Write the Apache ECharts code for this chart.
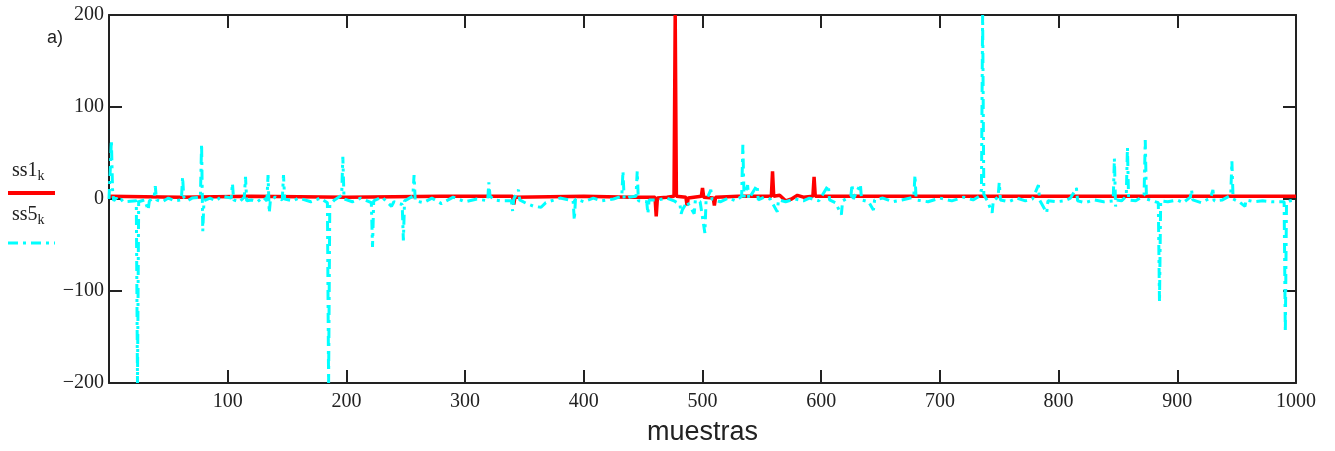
<!DOCTYPE html>
<html>
<head>
<meta charset="utf-8">
<script src="https://cdn.jsdelivr.net/npm/echarts@6/dist/echarts.min.js"></script>
<style>
  html, body { margin: 0; padding: 0; background: #fff; }
  #chart { width: 1335px; height: 451px; }
</style>
</head>
<body>
<div id="chart"></div>
<script>
// Sample index k
const xTicks = [0, 100, 200, 300, 400, 500, 600, 700, 800, 900, 1000];
const yTicks = [-200, -100, 0, 100, 200];

// ss1_k : [k, value] samples
const ss1 = [
  [0, 3], [60, 2], [120, 3], [200, 2], [280, 3], [340, 3], [341, -6], [342, 2],
  [400, 3], [440, 2], [455, 2], [460, 2], [461, -19], [462, 1], [470, 2], [476, 3],
  [477, 200], [478, 3], [486, 2], [487, -7], [488, 1], [499, 3], [500, 12], [501, 2],
  [509, 1], [510, -7], [511, 2], [530, 3], [558, 3], [559, 30], [560, 3], [565, 4],
  [570, -2], [575, 0], [580, 4], [585, 2], [593, 3], [594, 24], [595, 3], [605, 3],
  [700, 3], [800, 3], [900, 3], [1000, 3]
];

// ss5_k : [k, value] samples
const ss5 = [
  [0, 0], [1, 30], [2, 64], [3, 10], [4, -2], [6, 1], [8, -2], [10, 0], [12, -3],
  [23, -2], [24, -200], [25, -3],
  [30, -1], [33, -12], [34, -2], [38, 2], [39, 14], [40, -1],
  [45, -3], [50, 1], [55, -2],
  [61, -1], [62, 24], [63, 2], [66, -2], [70, 1],
  [77, 2], [78, 60], [79, -35], [80, -2],
  [85, 1], [90, -2], [95, 3],
  [103, 1], [104, 17], [105, -1],
  [110, -3], [114, 2], [115, 24], [116, -2], [120, -1],
  [125, -3], [130, 2], [133, -2], [134, 26], [135, -15], [136, -1],
  [140, 2], [146, -1], [147, 26], [148, 0], [155, -2], [160, 1], [170, -3], [178, 1],
  [184, -4], [185, -200], [186, -6],
  [190, -1], [196, 4], [197, 46], [198, 0],
  [205, -3], [212, 1], [221, -4], [222, -52], [223, -2], [230, 2], [238, -8], [240, -3],
  [247, -6], [248, -45], [249, -2], [256, 3], [257, 26], [258, -2],
  [265, -4], [272, 1], [280, -5], [290, 2], [300, -3], [310, 0],
  [319, -2], [320, 18], [321, 3], [325, -1], [330, -2], [339, -2], [340, -13], [341, 0],
  [345, 10], [346, -1],
  [352, -5], [358, -8], [364, -9], [368, -4], [375, -1], [380, 1],
  [391, -2], [392, -23], [393, 0],
  [400, -3], [408, 1], [415, -2], [425, 0], [432, 3], [433, 30], [434, 0], [438, 2],
  [444, 3], [445, 30], [446, -2],
  [453, -3], [454, -16], [455, -1], [462, -1], [470, 1], [476, -2],
  [481, -6], [482, -16], [483, -12], [487, -3], [493, -16], [494, -1], [498, -3],
  [502, -37], [503, -2], [507, 10], [508, 0],
  [515, -3], [522, 1], [528, -2],
  [533, 3], [534, 59], [535, 2], [538, 15], [539, 0], [546, 15], [547, -1], [552, 2],
  [557, 0], [563, -14], [564, -1],
  [570, -3], [578, 0], [585, -2], [590, 1], [598, -2],
  [606, 15], [607, -1], [612, -4], [617, -17], [618, -2], [625, 3], [626, 16], [627, 0],
  [633, 16], [634, -1], [640, -3], [644, -12], [645, -1],
  [652, 1], [660, -3], [668, -1], [678, 2], [679, 26], [680, -1], [690, -3], [700, 1],
  [710, -2], [720, 2], [728, -1], [733, 3],
  [735, 10], [736, 200], [737, 5], [740, -2], [744, -15], [745, -2], [749, 2], [750, 18], [751, -1],
  [758, -3], [765, 1], [772, -2], [778, 0], [783, 15], [784, -1], [790, -15], [791, -2], [798, -3],
  [805, -2], [810, 1], [815, 12], [816, -2], [822, -4], [830, -1], [838, -3],
  [846, -2], [847, 44], [848, -8], [849, -1], [853, -2], [857, 3], [858, 56], [859, -1],
  [865, -2], [872, 4], [873, 64], [874, 0], [879, -2], [884, -4], [885, -112], [886, -2],
  [892, -3], [900, -1], [905, -4], [911, 2], [912, 10], [913, -1], [920, -4], [928, 1],
  [930, 10], [931, -2],
  [938, -1], [945, 4], [946, 41], [947, 0], [952, -3], [957, -8], [958, -1], [965, -3],
  [972, -2], [980, -3],
  [990, -3], [991, -145], [992, -4], [995, -2], [1000, -1]
];

const axisColor = '#222';
const labelFont = 'Liberation Serif';

const chart = echarts.init(document.getElementById('chart'), null, { renderer: 'canvas' });

const baseX = {
  type: 'value',
  min: xTicks[0],
  max: xTicks[xTicks.length - 1],
  interval: xTicks[1] - xTicks[0],
  axisLine: { show: true, onZero: false, lineStyle: { color: axisColor, width: 2 } },
  axisTick: { show: true, inside: true, length: 13, lineStyle: { color: axisColor, width: 2 } },
  splitLine: { show: false }
};
const baseY = {
  type: 'value',
  min: yTicks[0],
  max: yTicks[yTicks.length - 1],
  interval: yTicks[1] - yTicks[0],
  axisLine: { show: true, onZero: false, lineStyle: { color: axisColor, width: 2 } },
  axisTick: { show: true, inside: true, length: 13, lineStyle: { color: axisColor, width: 2 } },
  splitLine: { show: false }
};

chart.setOption({
  animation: false,
  backgroundColor: '#ffffff',
  grid: { left: 109, right: 39, top: 15, bottom: 68, containLabel: false },
  xAxis: [
    Object.assign({}, baseX, {
      position: 'bottom',
      axisLabel: {
        margin: 9, color: '#222', fontFamily: labelFont, fontSize: 20,
        formatter: v => (v === 0 ? '' : String(v))
      },
      name: 'muestras',
      nameLocation: 'middle',
      nameGap: 36,
      nameTextStyle: { fontFamily: 'Liberation Sans', fontSize: 27, color: '#222' }
    }),
    Object.assign({}, baseX, { position: 'top', axisLabel: { show: false } })
  ],
  yAxis: [
    Object.assign({}, baseY, {
      position: 'left',
      axisLabel: {
        margin: 5, color: '#222', fontFamily: labelFont, fontSize: 20,
        formatter: v => String(v).replace('-', '\u2212')
      }
    }),
    Object.assign({}, baseY, { position: 'right', axisLabel: { show: false } })
  ],
  series: [
    {
      name: 'ss1',
      type: 'line',
      data: ss1,
      showSymbol: false,
      clip: true,
      lineStyle: { color: '#ff0000', width: 3.5 },
      z: 2
    },
    {
      name: 'ss5',
      type: 'line',
      data: ss5,
      showSymbol: false,
      clip: true,
      lineStyle: { color: '#00ffff', width: 3, type: [10, 5, 3, 5] },
      z: 3
    }
  ],
  graphic: [
    { type: 'text', left: 47, top: 29, style: { text: 'a)', font: '18px "Liberation Sans"', fill: '#222' } },
    {
      type: 'text', left: 12, top: 161,
      style: {
        text: '{m|ss1}{s|k}', fill: '#222',
        rich: {
          m: { font: '20px "Liberation Serif"', fill: '#222' },
          s: { font: '14px "Liberation Serif"', fill: '#222', padding: [10, 0, 0, 0] }
        }
      }
    },
    { type: 'line', shape: { x1: 8, y1: 193, x2: 55, y2: 193 }, style: { stroke: '#ff0000', lineWidth: 4 } },
    {
      type: 'text', left: 12, top: 205,
      style: {
        text: '{m|ss5}{s|k}', fill: '#222',
        rich: {
          m: { font: '20px "Liberation Serif"', fill: '#222' },
          s: { font: '14px "Liberation Serif"', fill: '#222', padding: [10, 0, 0, 0] }
        }
      }
    },
    { type: 'line', shape: { x1: 8, y1: 243, x2: 55, y2: 243 }, style: { stroke: '#00ffff', lineWidth: 3, lineDash: [10, 5, 3, 5] } }
  ]
});
</script>
</body>
</html>
